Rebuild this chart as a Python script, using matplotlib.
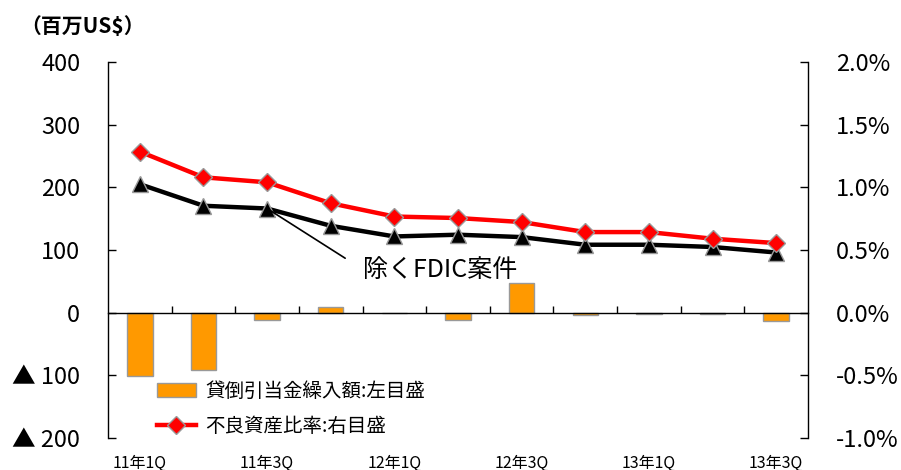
import numpy as np
import matplotlib
matplotlib.use('Agg')
import matplotlib.pyplot as plt
from matplotlib.ticker import FuncFormatter, FixedLocator

plt.rcParams['font.family'] = ['Noto Sans CJK JP', 'DejaVu Sans']

# データ
quarters = ['11年1Q', '11年2Q', '11年3Q', '11年4Q', '12年1Q', '12年2Q',
            '12年3Q', '12年4Q', '13年1Q', '13年2Q', '13年3Q']
provision = [-101, -92, -12, 9, 0, -12, 47, -3, -1.5, -1.5, -14]   # 百万US$
npa_ratio = [1.285, 1.08, 1.04, 0.873, 0.767, 0.755, 0.723, 0.643, 0.643, 0.59, 0.555]  # %
npa_ex_fdic = [1.025, 0.853, 0.831, 0.693, 0.608, 0.622, 0.603, 0.542, 0.542, 0.524, 0.48]  # %
label_bar = '貸倒引当金繰入額:左目盛'
label_red = '不良資産比率:右目盛'
note = '除くFDIC案件'

x = np.arange(len(quarters))

fig = plt.figure(figsize=(9.01, 4.70), dpi=100)
ax = fig.add_axes([108 / 901, 1 - 438 / 470, 700 / 901, 376 / 470])
ax2 = ax.twinx()

bars = ax.bar(x, provision, width=0.4, color='#FF9900', edgecolor='#999999',
              linewidth=1, label=label_bar, zorder=2)

ax2.plot(x, npa_ex_fdic, color='black', lw=3.2, marker='^', markersize=11,
         markerfacecolor='black', markeredgecolor='#999999', markeredgewidth=1)
red, = ax2.plot(x, npa_ratio, color='red', lw=3.2, marker='D', markersize=9,
                markerfacecolor='red', markeredgecolor='#999999',
                markeredgewidth=1, label=label_red)

# 注記
ax2.annotate(note, xy=(2, npa_ex_fdic[2]), xytext=(3.51, 0.343),
             fontsize=18, ha='left', va='center',
             arrowprops=dict(arrowstyle='-', color='black', lw=1.2,
                             shrinkA=13, shrinkB=2, relpos=(0, 0.5)))

# 軸
ax.set_xlim(-0.5, len(quarters) - 0.5)
ax.set_ylim(-200, 400)
ax2.set_ylim(-1.0, 2.0)
ax.set_yticks(np.arange(-200, 401, 100))
ax2.set_yticks(np.arange(-1.0, 2.01, 0.5))
ax.yaxis.set_major_formatter(FuncFormatter(
    lambda v, p: f'▲ {abs(v):.0f}' if v < 0 else f'{v:.0f}'))
ax2.yaxis.set_major_formatter(FuncFormatter(lambda v, p: f'{v:.1f}%'))

ax.tick_params(axis='y', direction='in', length=6, width=1, labelsize=17, pad=20)
ax2.tick_params(axis='y', direction='in', length=6, width=1, labelsize=17, pad=20)

ax.spines['bottom'].set_position(('data', 0))
ax.xaxis.set_major_locator(FixedLocator(x[:-1] + 0.5))
ax.tick_params(axis='x', direction='in', length=5, width=1, labelbottom=False)

sec = ax.secondary_xaxis(0.0)
sec.set_xticks(x[::2], quarters[::2])
sec.tick_params(length=0, labelsize=11.5, pad=12)
sec.spines['bottom'].set_visible(False)

for a in (ax, ax2):
    a.spines['top'].set_visible(False)
ax.spines['right'].set_visible(False)
ax2.spines['left'].set_visible(False)
ax2.spines['bottom'].set_visible(False)
for s in ('left', 'bottom'):
    ax.spines[s].set_linewidth(1)
ax2.spines['right'].set_linewidth(1)

fig.text(20 / 901, 1 - 27 / 470, '（百万US$）', fontsize=15, fontweight='bold',
         ha='left', va='center')

fig.legend([bars, red], [label_bar, label_red], loc='upper left',
           bbox_to_anchor=(157 / 901, 1 - 381 / 470), frameon=False,
           fontsize=14, handlelength=2.0, handleheight=0.7, handletextpad=0.5,
           labelspacing=0.7, borderpad=0, borderaxespad=0)

fig.savefig('out.png', dpi=100)
